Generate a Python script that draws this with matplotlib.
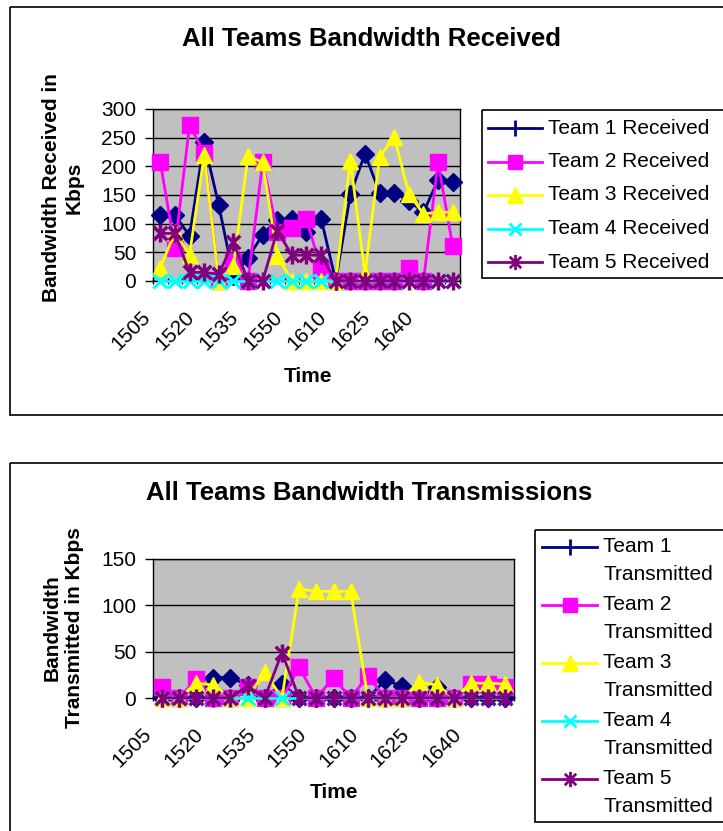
import matplotlib
matplotlib.use("Agg")
import matplotlib.pyplot as plt
from matplotlib.patches import Rectangle
from matplotlib.path import Path
from matplotlib.transforms import ScaledTranslation

plt.rcParams['font.family'] = ['Liberation Sans', 'DejaVu Sans']

# data
times = ["1505", "1510", "1515", "1520", "1525", "1530", "1535", "1540", "1545", "1550",
         "1600", "1605", "1610", "1615", "1620", "1625", "1630", "1635", "1640", "1645", "1650"]
label_every = 3

team1_rx = [115, 115, 79, 242, 132, 8, 40, 81, 107, 108, 86, 109, 0, 151, 222, 154, 154, 140, 120, 176, 172]
team2_rx = [207, 58, 272, 224, 0, 35, 0, 207, 86, 93, 108, 20, 0, 0, 0, 0, 0, 23, 0, 207, 61]
team3_rx = [23, 85, 46, 219, 0, 26, 218, 207, 44, 0, 0, 0, 0, 210, 12, 216, 252, 152, 117, 120, 120]
team4_rx = [0] * 21
team5_rx = [83, 83, 15, 15, 12, 68, 0, 0, 88, 45, 45, 45, 0, 0, 0, 0, 0, 0, 0, 0, 0]

team1_tx = [0, 0, 0, 22, 22, 14, 0, 15, 0, 0, 0, 0, 0, 19, 13, 0, 12, 0, 0, 0, 0]
team2_tx = [12, 0, 20, 0, 0, 12, 0, 0, 33, 0, 22, 0, 24, 0, 0, 0, 0, 0, 15, 15, 12]
team3_tx = [0, 0, 16, 14, 0, 0, 28, 0, 118, 115, 115, 115, 0, 0, 0, 17, 14, 0, 16, 16, 15]
team4_tx = [0] * 21
team5_tx = [0, 0, 0, 0, 0, 13, 0, 49, 0, 0, 0, 0, 0, 0, 0, 0, 0, 0, 0, 0, 0]

rx_names = ["Team 1 Received", "Team 2 Received", "Team 3 Received",
            "Team 4 Received", "Team 5 Received"]
tx_names = ["Team 1", "Team 2", "Team 3", "Team 4", "Team 5"]

colors = ["#000080", "#FF00FF", "#FFFF00", "#00FFFF", "#800080"]

star = Path([(0, -1), (0, 1), (-0.75, -0.75), (0.75, 0.75), (-0.75, 0.75), (0.75, -0.75)],
            [Path.MOVETO, Path.LINETO, Path.MOVETO, Path.LINETO, Path.MOVETO, Path.LINETO])
styles = [
    dict(marker="D", ms=9, mfc=colors[0], mec=colors[0]),
    dict(marker="s", ms=11, mfc=colors[1], mec=colors[1]),
    dict(marker="^", ms=12, mfc=colors[2], mec=colors[2]),
    dict(marker="x", ms=10, mew=2.2, mec=colors[3]),
    dict(marker=star, ms=13, mew=2.5, mec=colors[4]),
]
leg_styles = [
    dict(marker="|", ms=12, mew=2, mec=colors[0]),
    dict(marker="s", ms=10, mfc=colors[1], mec=colors[1]),
    dict(marker="^", ms=11, mfc=colors[2], mec=colors[2]),
    dict(marker="x", ms=9, mew=2, mec=colors[3]),
    dict(marker=star, ms=11, mew=2, mec=colors[4]),
]

W, H = 723, 831
fig = plt.figure(figsize=(W / 100, H / 100), dpi=100)


def px(x0, y0, x1, y1):
    return [x0 / W, 1 - y1 / H, (x1 - x0) / W, (y1 - y0) / H]


bg = fig.add_axes([0, 0, 1, 1], zorder=0)
bg.set_xlim(0, W)
bg.set_ylim(H, 0)
bg.axis("off")

# chart frames
bg.add_patch(Rectangle((10, 7), 760, 408, fill=False, ec="black", lw=1.2))
bg.add_patch(Rectangle((10, 463), 760, 420, fill=False, ec="black", lw=1.2))


def chart(box, series, ymax, ystep):
    ax = fig.add_axes(px(*box), zorder=2)
    ax.set_facecolor("#C0C0C0")
    x = list(range(len(times)))
    for i, vals in enumerate(series):
        ax.plot(x, vals, color=colors[i], lw=2, clip_on=False, zorder=3 + i, **styles[i])
    ax.set_xlim(-0.5, len(times) - 0.5)
    ax.set_ylim(0, ymax)
    ax.set_yticks(range(0, ymax + 1, ystep))
    ax.yaxis.grid(True, color="black", lw=1)
    ax.set_axisbelow(True)
    ax.tick_params(axis="y", labelsize=15, length=6, width=1, pad=6, direction="out")
    # tick marks between categories, labels every third category
    ax.set_xticks([k + 0.5 for k in range(-1, len(times))])
    ax.set_xticklabels([])
    ax.tick_params(axis="x", which="major", length=4, width=1, direction="inout")
    idx = list(range(0, len(times), label_every))
    ax.set_xticks(idx, [times[k] for k in idx], minor=True)
    ax.tick_params(axis="x", which="minor", length=0, pad=19, labelsize=15)
    for lbl in ax.get_xticklabels(minor=True):
        lbl.set_rotation(45)
        lbl.set_ha("right")
        lbl.set_va("top")
        lbl.set_transform(lbl.get_transform() + ScaledTranslation(-0.06, 0, fig.dpi_scale_trans))
    for s in ax.spines.values():
        s.set_color("black")
        s.set_linewidth(1)
    return ax


chart((153, 109, 460, 281), [team1_rx, team2_rx, team3_rx, team4_rx, team5_rx], 300, 50)
chart((153, 559, 514, 698), [team1_tx, team2_tx, team3_tx, team4_tx, team5_tx], 150, 50)

# titles and axis labels
bg.text(371, 39, "All Teams Bandwidth Received", ha="center", va="center",
        fontsize=18.5, fontweight="bold")
bg.text(369, 493, "All Teams Bandwidth Transmissions", ha="center", va="center",
        fontsize=18.5, fontweight="bold")
bg.text(63, 188, "Bandwidth Received in\nKbps", rotation=90, ha="center", va="center",
        fontsize=15, fontweight="bold", multialignment="center")
bg.text(63, 628, "Bandwidth\nTransmitted in Kbps", rotation=90, ha="center", va="center",
        fontsize=15, fontweight="bold", multialignment="center")
bg.text(308, 376, "Time", ha="center", va="center", fontsize=15, fontweight="bold")
bg.text(334, 793, "Time", ha="center", va="center", fontsize=15, fontweight="bold")

# legend 1
bg.add_patch(Rectangle((482, 110), 260, 168, fill=False, ec="black", lw=1.2))
for i, name in enumerate(rx_names):
    y = 128 + i * 33.5
    bg.plot([488, 542], [y, y], color=colors[i], lw=2)
    bg.plot([515], [y], ls="none", **leg_styles[i])
    bg.text(548, y, name, ha="left", va="center", fontsize=15)

# legend 2
bg.add_patch(Rectangle((535, 530), 210, 292, fill=False, ec="black", lw=1.2))
for i, name in enumerate(tx_names):
    y = 547 + i * 58
    bg.plot([542, 597], [y, y], color=colors[i], lw=2)
    bg.plot([570], [y], ls="none", **leg_styles[i])
    bg.text(603, y, name, ha="left", va="center", fontsize=15)
    bg.text(603, y + 28, "Transmitted", ha="left", va="center", fontsize=15)

fig.savefig("out.png", dpi=100)
